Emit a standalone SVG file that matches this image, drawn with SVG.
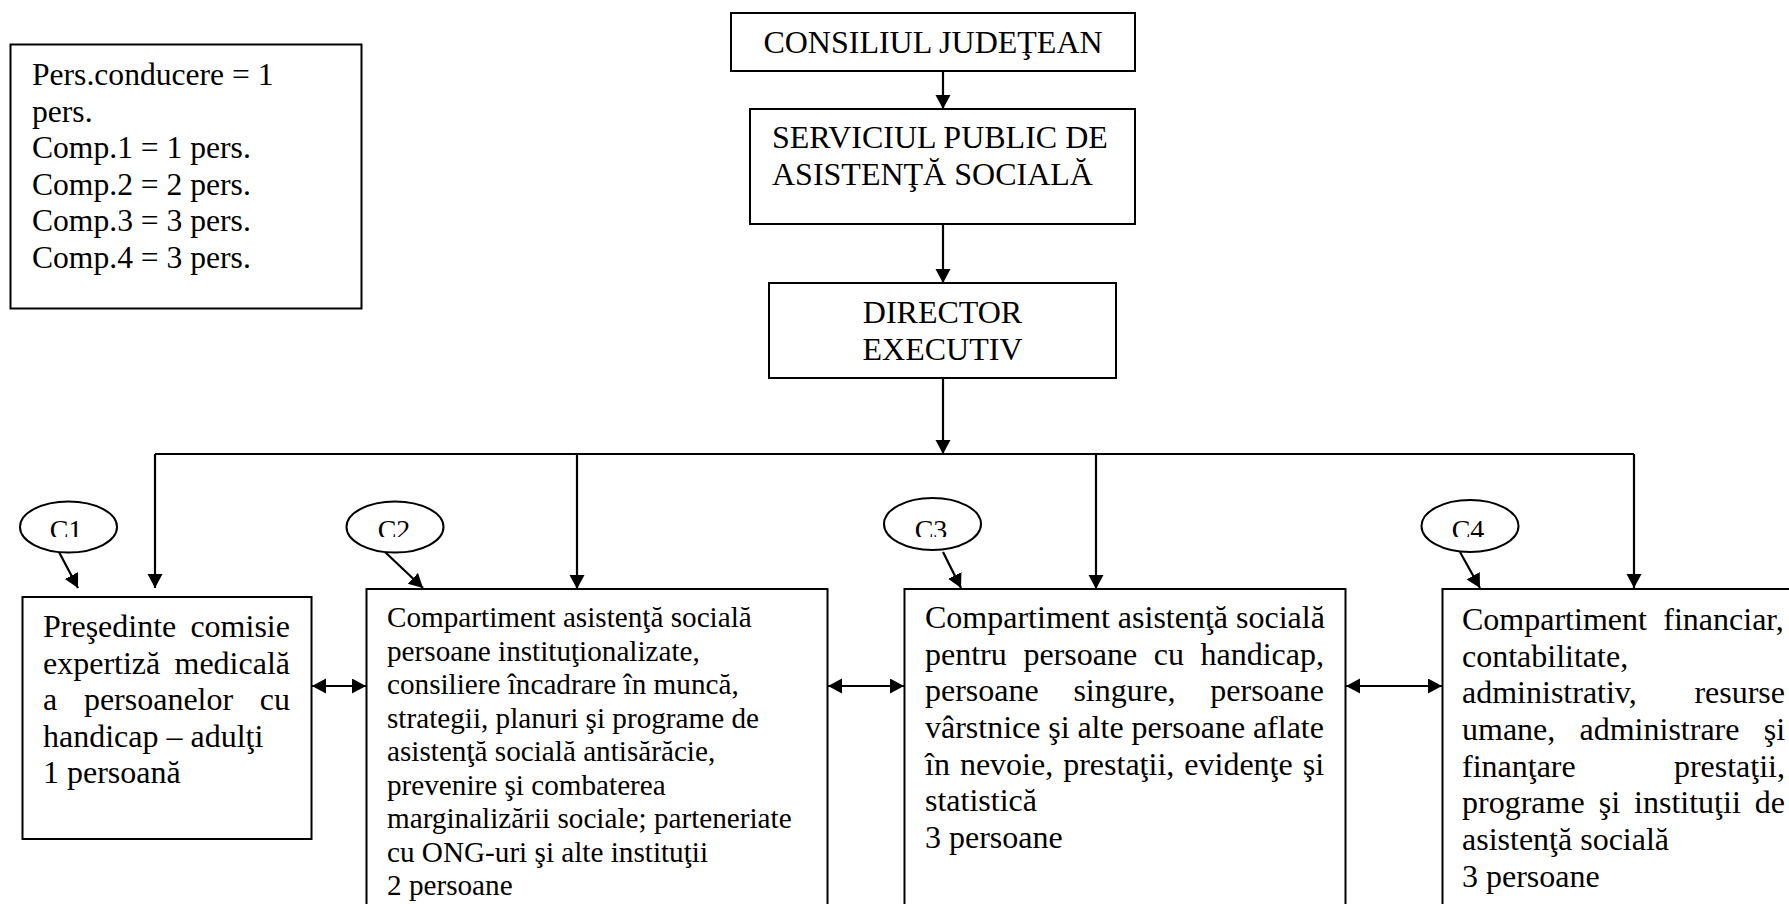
<svg xmlns="http://www.w3.org/2000/svg" width="1789" height="904" viewBox="0 0 1789 904">
<style>
  .box { fill: #fff; stroke: #000; stroke-width: 2; }
  .ell { fill: #fff; stroke: #000; stroke-width: 2; }
  .t { font-family: "Liberation Serif", "Times New Roman", serif; font-size: 32px; fill: #000; }
  .t2 { font-family: "Liberation Serif", "Times New Roman", serif; font-size: 29.2px; fill: #000; }
  .tl { font-family: "Liberation Serif", "Times New Roman", serif; font-size: 31.6px; fill: #000; }
  .tc { font-family: "Liberation Serif", "Times New Roman", serif; font-size: 28px; fill: #000; }
  .ln { fill: none; stroke: #000; stroke-width: 2.2; }
</style>
<defs>
  <marker id="ah" markerUnits="userSpaceOnUse" markerWidth="15" markerHeight="16" refX="14" refY="7.5" orient="auto-start-reverse">
    <path d="M0,0 L14,7.5 L0,15 Z" fill="#000"/>
  </marker>
  <clipPath id="cc1"><rect x="0" y="500" width="1789" height="37"/></clipPath>
</defs>
<rect x="0" y="0" width="1789" height="904" fill="#fff"/>

<g id="legend">
  <rect class="box" x="10.5" y="44.5" width="351" height="264"/>
  <text class="tl" x="32" y="85">Pers.conducere = 1</text>
  <text class="tl" x="32" y="121.6">pers.</text>
  <text class="tl" x="32" y="158.2">Comp.1 = 1 pers.</text>
  <text class="tl" x="32" y="194.8">Comp.2 = 2 pers.</text>
  <text class="tl" x="32" y="231.4">Comp.3 = 3 pers.</text>
  <text class="tl" x="32" y="268">Comp.4 = 3 pers.</text>
</g>

<g id="consiliul">
  <rect class="box" x="731" y="13" width="404" height="58"/>
  <text class="t" x="933" y="53" text-anchor="middle">CONSILIUL JUDEŢEAN</text>
</g>

<g id="serviciul">
  <rect class="box" x="750" y="109" width="385" height="115"/>
  <text class="t" x="772" y="148">SERVICIUL PUBLIC DE</text>
  <text class="t" x="772" y="185">ASISTENŢĂ SOCIALĂ</text>
</g>

<g id="director">
  <rect class="box" x="769" y="283" width="347" height="95"/>
  <text class="t" x="942.5" y="323" text-anchor="middle">DIRECTOR</text>
  <text class="t" x="942.5" y="360" text-anchor="middle">EXECUTIV</text>
</g>

<g id="c1-label">
  <ellipse class="ell" cx="68.5" cy="527" rx="48.5" ry="25.5"/>
  <text class="tc" x="66" y="538.5" text-anchor="middle" clip-path="url(#cc1)">C1</text>
</g>
<g id="c2-label">
  <ellipse class="ell" cx="395" cy="527" rx="48.5" ry="25.5"/>
  <text class="tc" x="394" y="538.5" text-anchor="middle" clip-path="url(#cc1)">C2</text>
</g>
<g id="c3-label">
  <ellipse class="ell" cx="932.5" cy="524" rx="48.5" ry="26"/>
  <text class="tc" x="931" y="538.5" text-anchor="middle" clip-path="url(#cc1)">C3</text>
</g>
<g id="c4-label">
  <ellipse class="ell" cx="1470" cy="526" rx="48.5" ry="26"/>
  <text class="tc" x="1468" y="538.5" text-anchor="middle" clip-path="url(#cc1)">C4</text>
</g>

<g id="c1">
  <rect class="box" x="22.5" y="597" width="289" height="242"/>
  <text class="t" y="637"><tspan x="43">Preşedinte</tspan><tspan x="190.4">comisie</tspan></text>
  <text class="t" y="673.5"><tspan x="43">expertiză</tspan><tspan x="174.5">medicală</tspan></text>
  <text class="t" y="710"><tspan x="43">a</tspan><tspan x="83.9">persoanelor</tspan><tspan x="259.8">cu</tspan></text>
  <text class="t" x="43" y="746.5">handicap – adulţi</text>
  <text class="t" x="43" y="783">1 persoană</text>
</g>

<g id="c2">
  <rect class="box" x="366.5" y="589" width="461" height="330"/>
  <text class="t2" x="387" y="627">Compartiment asistenţă socială</text>
  <text class="t2" x="387" y="660.5">persoane instituţionalizate,</text>
  <text class="t2" x="387" y="694">consiliere încadrare în muncă,</text>
  <text class="t2" x="387" y="727.5">strategii, planuri şi programe de</text>
  <text class="t2" x="387" y="761">asistenţă socială antisărăcie,</text>
  <text class="t2" x="387" y="794.5">prevenire şi combaterea</text>
  <text class="t2" x="387" y="828">marginalizării sociale; parteneriate</text>
  <text class="t2" x="387" y="861.5">cu ONG-uri şi alte instituţii</text>
  <text class="t2" x="387" y="895">2 persoane</text>
</g>

<g id="c3">
  <rect class="box" x="904.5" y="589" width="441" height="330"/>
  <text class="t" x="925" y="628">Compartiment asistenţă socială</text>
  <text class="t" y="664.7"><tspan x="925">pentru</tspan><tspan x="1023.4">persoane</tspan><tspan x="1153.7">cu</tspan><tspan x="1200.5">handicap,</tspan></text>
  <text class="t" y="701.3"><tspan x="925">persoane</tspan><tspan x="1073.4">singure,</tspan><tspan x="1210.3">persoane</tspan></text>
  <text class="t" y="738"><tspan x="925">vârstnice</tspan><tspan x="1048.3">şi</tspan><tspan x="1077.4">alte</tspan><tspan x="1131.4">persoane</tspan><tspan x="1252.9">aflate</tspan></text>
  <text class="t" y="774.7"><tspan x="925">în</tspan><tspan x="959.9">nevoie,</tspan><tspan x="1063.2">prestaţii,</tspan><tspan x="1184.3">evidenţe</tspan><tspan x="1302.7">şi</tspan></text>
  <text class="t" x="925" y="811.3">statistică</text>
  <text class="t" x="925" y="848">3 persoane</text>
</g>

<g id="c4">
  <rect class="box" x="1442.5" y="589" width="360" height="330"/>
  <text class="t" y="630"><tspan x="1462">Compartiment</tspan><tspan x="1663.3">financiar,</tspan></text>
  <text class="t" x="1462" y="666.7">contabilitate,</text>
  <text class="t" y="703.3"><tspan x="1462">administrativ,</tspan><tspan x="1694.4">resurse</tspan></text>
  <text class="t" y="740"><tspan x="1462">umane,</tspan><tspan x="1579.5">administrare</tspan><tspan x="1763.7">şi</tspan></text>
  <text class="t" y="776.7"><tspan x="1462">finanţare</tspan><tspan x="1673.9">prestaţii,</tspan></text>
  <text class="t" y="813.3"><tspan x="1462">programe</tspan><tspan x="1598.7">şi</tspan><tspan x="1634.1">instituţii</tspan><tspan x="1754.8">de</tspan></text>
  <text class="t" x="1462" y="850">asistenţă socială</text>
  <text class="t" x="1462" y="886.7">3 persoane</text>
</g>

<g id="connectors">
  <line class="ln" x1="943" y1="71" x2="943" y2="109" marker-end="url(#ah)"/>
  <line class="ln" x1="943" y1="224" x2="943" y2="283" marker-end="url(#ah)"/>
  <line class="ln" x1="943" y1="378" x2="943" y2="454" marker-end="url(#ah)"/>
  <line class="ln" x1="155" y1="454" x2="1634" y2="454"/>
  <line class="ln" x1="155" y1="454" x2="155" y2="588" marker-end="url(#ah)"/>
  <line class="ln" x1="577" y1="454" x2="577" y2="589" marker-end="url(#ah)"/>
  <line class="ln" x1="1096" y1="454" x2="1096" y2="589" marker-end="url(#ah)"/>
  <line class="ln" x1="1634" y1="454" x2="1634" y2="588" marker-end="url(#ah)"/>
  <line class="ln" x1="59" y1="552" x2="78" y2="588" marker-end="url(#ah)"/>
  <line class="ln" x1="385" y1="552" x2="423" y2="588" marker-end="url(#ah)"/>
  <line class="ln" x1="943" y1="552" x2="961" y2="588" marker-end="url(#ah)"/>
  <line class="ln" x1="1460" y1="552" x2="1480" y2="588" marker-end="url(#ah)"/>
  <line class="ln" x1="312" y1="686" x2="366" y2="686" marker-start="url(#ah)" marker-end="url(#ah)"/>
  <line class="ln" x1="828" y1="686" x2="904" y2="686" marker-start="url(#ah)" marker-end="url(#ah)"/>
  <line class="ln" x1="1346" y1="686" x2="1442" y2="686" marker-start="url(#ah)" marker-end="url(#ah)"/>
</g>
</svg>
